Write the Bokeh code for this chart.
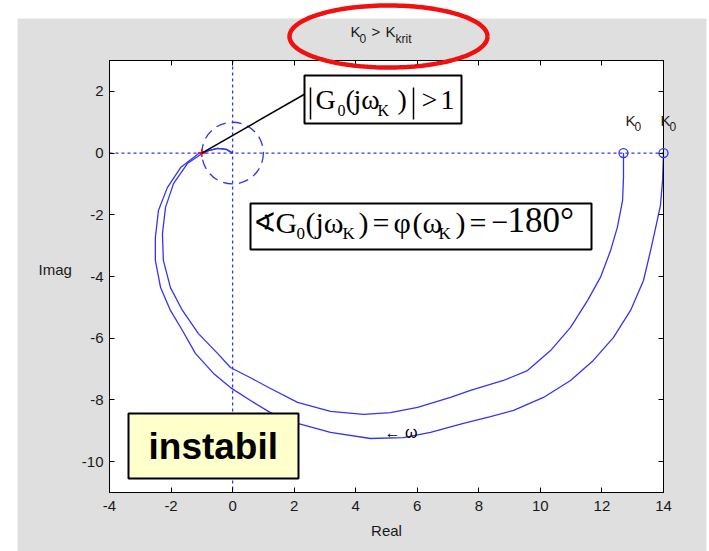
import numpy as np
from bokeh.plotting import figure
from bokeh.models import Range1d, FixedTicker, LinearAxis, Span, ColumnDataSource
from bokeh.core.properties import value
from bokeh.embed import file_html
from bokeh.resources import INLINE

# ---- data -----------------------------------------------------------------
# Nyquist locus G0(jw) for the larger gain (starts at K0 = 14 on the real axis)
re_outer = [14.0, 13.97, 13.90, 13.74, 13.58, 13.35, 12.93, 12.37, 11.72, 10.98,
            10.10, 9.13, 8.38, 7.50, 6.43, 5.55, 4.48, 3.18, 2.11, 1.23,
            0.58, -0.07, -0.62, -1.21, -1.63, -2.02, -2.34, -2.51, -2.51, -2.41,
            -2.12, -1.69, -1.08, -0.78, -0.49, -0.20, 0.0]
im_outer = [0.0, -0.89, -1.70, -2.44, -3.16, -4.13, -5.10, -5.98, -6.72, -7.37,
            -7.92, -8.34, -8.54, -8.76, -9.05, -9.22, -9.25, -9.05, -8.76, -8.41,
            -8.02, -7.60, -7.14, -6.49, -5.75, -5.10, -4.36, -3.48, -2.74, -1.86,
            -1.12, -0.47, 0.0, 0.08, 0.15, 0.12, 0.0]

# Nyquist locus for the smaller gain (starts at K0 = 12.7)
re_inner = [12.70, 12.70, 12.67, 12.50, 12.28, 11.95, 11.53, 10.98, 10.33, 9.58,
            8.80, 7.73, 7.08, 6.01, 5.13, 4.25, 3.18, 2.11, 1.23, 0.58,
            -0.07, -0.49, -1.11, -1.63, -2.02, -2.25, -2.28, -2.18, -1.92, -1.47,
            -1.0, -0.78, -0.49, -0.20, 0.0]
im_inner = [0.0, -0.79, -1.54, -2.41, -3.16, -4.03, -4.78, -5.65, -6.40, -7.05,
            -7.37, -7.69, -7.92, -8.24, -8.41, -8.47, -8.37, -8.08, -7.63, -7.28,
            -6.95, -6.49, -5.85, -5.10, -4.36, -3.48, -2.61, -1.76, -0.99, -0.34,
            -0.02, 0.08, 0.15, 0.12, 0.0]

k0_values = [12.7, 14.0]          # start points (w = 0)
critical_point = (-1.0, 0.0)      # -1 point
unit_radius = 1.0

x_ticks = [-4, -2, 0, 2, 4, 6, 8, 10, 12, 14]
y_ticks = [-10, -8, -6, -4, -2, 0, 2]
X_MIN, X_MAX = -4, 14
Y_MIN, Y_MAX = -11, 3

# ---- layout ---------------------------------------------------------------
W, H = 709, 551
FL, FR, FT, FB = 109, 663, 60, 492      # frame edges in pixels
BG = "#dfdfdf"
BLUE = "#3434f4"
SERIF = "Liberation Serif"
SANS = "Liberation Sans"


def px2x(px):
    return X_MIN + (px - FL) * (X_MAX - X_MIN) / (FR - FL)


def py2y(py):
    return Y_MAX - (py - FT) * (Y_MAX - Y_MIN) / (FB - FT)


p = figure(width=W, height=H, x_range=Range1d(X_MIN, X_MAX), y_range=Range1d(Y_MIN, Y_MAX),
           output_backend="svg", toolbar_location=None,
           min_border_left=FL, min_border_right=W - FR,
           min_border_top=FT, min_border_bottom=H - FB,
           border_fill_color=BG, background_fill_color="white",
           outline_line_color="black", outline_line_width=1)
p.grid.visible = False

for ax in (p.xaxis[0], p.yaxis[0]):
    ax.major_tick_in = 5
    ax.major_tick_out = 0
    ax.minor_tick_line_color = None
    ax.axis_line_color = "black"
    ax.major_tick_line_color = "black"
    ax.major_label_text_font = SANS
    ax.major_label_text_font_size = "15px"
    ax.major_label_text_color = "#1a1a1a"
    ax.axis_label_text_font = SANS
    ax.axis_label_text_font_size = "15px"
    ax.axis_label_text_font_style = "normal"
    ax.axis_label_text_color = "#1a1a1a"

p.xaxis.ticker = FixedTicker(ticks=x_ticks)
p.yaxis.ticker = FixedTicker(ticks=y_ticks)
p.xaxis.major_label_overrides = {v: str(v) for v in x_ticks}
p.yaxis.major_label_overrides = {v: str(v) for v in y_ticks}
p.xaxis.axis_label = "Real"
p.xaxis.major_label_standoff = 8
p.xaxis.axis_label_standoff = 8
p.yaxis.major_label_standoff = 6

# box-style ticks on top and right (labels not painted)
for side, ticks in (("above", x_ticks), ("right", y_ticks)):
    a = LinearAxis(ticker=FixedTicker(ticks=ticks), major_tick_in=5, major_tick_out=0,
                   minor_tick_line_color=None, major_label_text_color=None,
                   major_label_text_font_size="10px",
                   axis_line_color="black", major_tick_line_color="black")
    p.add_layout(a, side)

# dotted real / imaginary axes
p.add_layout(Span(location=0, dimension="width", line_color=BLUE, line_dash="3 3",
                  line_width=1.3, level="underlay"))
p.add_layout(Span(location=0, dimension="height", line_color=BLUE, line_dash="3 3",
                  line_width=1.3, level="underlay"))

# unit circle around the origin
p.ellipse(x=[0], y=[0], width=[2 * unit_radius], height=[2 * unit_radius],
          fill_color=None, line_color=BLUE, line_width=1.3, line_dash="10 6")

# Nyquist curves
p.line(re_outer, im_outer, line_color=BLUE, line_width=1.3)
p.line(re_inner, im_inner, line_color=BLUE, line_width=1.3)

# critical point
p.scatter([critical_point[0]], [critical_point[1]], marker="cross", size=8,
          line_color="red", line_width=1.5)

# leader line from the -1 point to the magnitude box
p.segment(x0=[critical_point[0]], y0=[critical_point[1]], x1=[px2x(307)], y1=[py2y(92)],
          line_color="black", line_width=1.5)


def box(l, r, t, b, fill):
    p.quad(left=[px2x(l)], right=[px2x(r)], top=[py2y(t)], bottom=[py2y(b)],
           fill_color=fill, line_color="black", line_width=2)


def put_text(items, size, font, style="normal", level="glyph", color="black"):
    # items: (text, left px, baseline px); the glyph baseline sits a little low,
    # so lift it by a fraction of the font size
    lift = 0.38 * size
    src = ColumnDataSource(dict(x=[px2x(i[1]) for i in items],
                                y=[py2y(i[2] - lift) for i in items],
                                t=[i[0] for i in items]))
    p.text(x="x", y="y", text="t", source=src, text_font=value(font),
           text_font_size=value(f"{size}px"), text_font_style=value(style),
           text_baseline="alphabetic", text_align="left", text_color=color,
           level=level)


# |G0(jwK)| > 1
box(304, 461, 75, 123, "white")
put_text([("G", 315, 110), ("(", 345, 110), ("jω", 353, 110), (")", 397, 110),
          (">", 421, 110), ("1", 440, 110)], 28, SERIF)
put_text([("0", 337, 116), ("K", 377, 116)], 16, SERIF)
p.segment(x0=[px2x(310), px2x(413)], y0=[py2y(87)] * 2, x1=[px2x(310), px2x(413)],
          y1=[py2y(119)] * 2, line_color="black", line_width=1.5)

# phase condition
box(250, 591, 203, 249, "white")
put_text([("∢", 252, 233)], 28, SERIF)
put_text([("G", 275, 233), ("(", 305, 233), ("jω", 315, 233),
          (")", 358, 233), ("=", 372, 233), ("φ", 393, 233), ("(ω", 412, 233),
          (")", 455, 233), ("=", 469, 233), ("−", 491, 233)], 30, SERIF)
put_text([("180°", 507, 233)], 35, SERIF)
put_text([("0", 296, 239), ("K", 342, 239), ("K", 438, 239)], 17, SERIF)

# instability box
box(128, 298, 413, 478, "#ffffcc")
put_text([("instabil", 148, 460)], 37, SANS, "bold")

# frequency direction
put_text([("← ω", 384, 438)], 16, SANS)

# y axis caption
put_text([("Imag", 38, 275)], 15, SANS, level="overlay", color="#1a1a1a")

# ---- marks outside the frame (overlay level) ------------------------------
p.scatter(k0_values, [0, 0], marker="circle", size=9, fill_color=None,
          line_color=BLUE, line_width=1.3, level="overlay")

for kx in (625, 660):
    put_text([("K", kx, 126)], 15, SANS, level="overlay", color="#1a1a1a")
    put_text([("0", kx + 9, 131)], 12, SANS, level="overlay", color="#1a1a1a")

# white page margin around the grey figure area
for l, r, t_, b in ((-10, 17, -10, 560), (-10, 720, -10, 18), (706, 720, -10, 560)):
    p.quad(left=[px2x(l)], right=[px2x(r)], top=[py2y(t_)], bottom=[py2y(b)],
           fill_color="white", line_color=None, level="overlay")

# title
put_text([("K", 350, 37), (">", 371, 37), ("K", 385, 37)], 15, SANS,
         level="overlay", color="#1a1a1a")
put_text([("0", 359, 43), ("krit", 395, 43)], 12, SANS,
         level="overlay", color="#1a1a1a")

# red highlight ring around the title
th = np.linspace(0, 2 * np.pi, 160)
p.line([px2x(388 + 99 * np.cos(a)) for a in th], [py2y(36 + 31 * np.sin(a)) for a in th],
       line_color="#f01010", line_width=4.5, level="overlay")

open("out.html", "w").write(file_html(p, INLINE))
